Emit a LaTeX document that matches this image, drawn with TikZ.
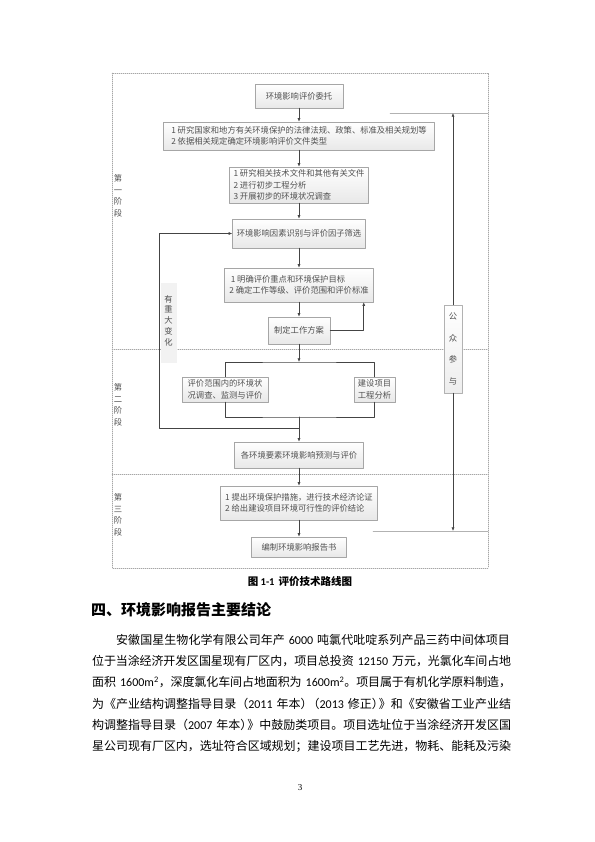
\documentclass[tikz,border=0pt]{standalone}
\usepackage{fontspec}
\setmainfont{Noto Sans CJK SC}
\newfontfamily\latn{Carlito}
\newfontfamily\serifn{Liberation Serif}
\usetikzlibrary{arrows.meta,shadows}
\XeTeXlinebreaklocale "zh"
\XeTeXlinebreakskip=0pt plus 1pt minus 0.5pt
\definecolor{inkgray}{RGB}{68,68,68}
\definecolor{txtgray}{RGB}{80,80,80}
\newcommand{\dg}[1]{{\latn #1}}
\newcommand{\pc}{\kern-5bp\relax}
\newcommand{\boxfont}{\fontsize{8.3bp}{11.5bp}\selectfont}
\newcommand{\bodyfont}{\fontsize{12bp}{21.3bp}\selectfont}

\begin{document}
\begin{tikzpicture}[x=1bp,y=-1bp,line cap=round,line join=round,
  box/.style={draw=black!35,line width=0.5bp,top color=white,bottom color=black!9,
    drop shadow={opacity=0.18,shadow xshift=0.9bp,shadow yshift=-0.9bp},
    inner sep=1.5bp,font=\boxfont,text=txtgray},
  stagelbl/.style={font=\boxfont,text=txtgray,align=center,inner sep=0pt},
  link/.style={draw=inkgray,line width=0.6bp,-{Latex[length=3.6bp,width=3bp]}},
  wire/.style={draw=inkgray,line width=0.6bp},
  frame/.style={draw=black!35,line width=0.4bp,dash pattern=on 1bp off 1bp},
  rule/.style={draw=black!30,line width=0.5bp}]
\useasboundingbox (0,0) rectangle (595,842);
\draw[frame] (112,73) rectangle (488,568);
\draw[frame] (112,349) -- (488,349);
\draw[frame] (112,474) -- (488,474);
\node[stagelbl] (stage1) at (118,196) {第\\一\\阶\\段};
\node[stagelbl] (stage2) at (118,405) {第\\二\\阶\\段};
\node[stagelbl] (stage3) at (118,515) {第\\三\\阶\\段};
\node[box,minimum width=88bp,minimum height=24bp] (entrust) at (299,96) {环境影响评价委托};
\node[box,align=left,minimum width=271bp,minimum height=28bp] (laws) at (299,136) {1 研究国家和地方有关环境保护的法律法规、政策、标准及相关规划等\\2 依据相关规定确定环境影响评价文件类型};
\node[box,align=left,minimum width=139bp,minimum height=36bp] (research) at (299,185) {1 研究相关技术文件和其他有关文件\\2 进行初步工程分析\\3 开展初步的环境状况调查};
\node[box,minimum width=133bp,minimum height=29bp] (factor) at (299,233.5) {环境影响因素识别与评价因子筛选};
\node[box,align=left,minimum width=149bp,minimum height=34bp] (focus) at (299,285) {\,1 明确评价重点和环境保护目标\\2 确定工作等级、评价范围和评价标准};
\node[box,minimum width=62bp,minimum height=27bp] (plan) at (299,330.5) {制定工作方案};
\node[box,align=center,minimum width=86bp,minimum height=25bp] (survey) at (225,389.5) {评价范围内的环境状\\况调查、监测与评价};
\node[box,align=center,minimum width=41bp,minimum height=25bp] (engineering) at (374.5,389.5) {建设项目\\工程分析};
\node[box,minimum width=129bp,minimum height=26bp] (predict) at (299,455) {各环境要素环境影响预测与评价};
\node[box,align=left,minimum width=157bp,minimum height=34bp] (measure) at (299,503) {1 提出环境保护措施，进行技术经济论证\\2 给出建设项目环境可行性的评价结论};
\node[box,minimum width=95bp,minimum height=20bp] (report) at (299,547) {编制环境影响报告书};
\node[fill=black!5,minimum width=16bp,minimum height=80bp,inner sep=0pt] (changebg) at (169,323) {};
\node[stagelbl,font=\fontsize{8.3bp}{10.7bp}\selectfont] (change) at (168.5,320.5) {有\\重\\大\\变\\化};
\node[draw=black!30,line width=0.5bp,top color=white,bottom color=black!7,minimum width=18bp,minimum height=88bp,inner sep=0pt,
  font=\fontsize{8.3bp}{21.7bp}\selectfont,text=txtgray,align=center] (public) at (453,349) {公\\众\\参\\与};
\draw[link] (entrust) -- (laws);
\draw[link] (laws) -- (research);
\draw[link] (research) -- (factor);
\draw[link] (factor) -- (focus);
\draw[link] (focus) -- (plan);
\draw[link] (plan.east) -| ([xshift=-10bp]focus.south east);
\coordinate (split) at (299,362);
\coordinate (merge) at (299,417);
\coordinate (back) at (299,428);
\coordinate (backleft) at (159,428);
\draw[link] (plan) -- (split);
\draw[wire] (survey.north) |- (split) -| (engineering.north);
\draw[wire] (survey.south) |- (merge) -| (engineering.south);
\draw[link] (merge) -- (predict);
\draw[link] (back) -- (backleft) |- (factor.west);
\draw[link] (predict) -- (measure);
\draw[link] (measure) -- (report);
\coordinate (pubtop) at (453,113);
\coordinate (pubbot) at (453,531);
\draw[rule] (390,113) -- (488,113);
\draw[rule] (373,531) -- (488,531);
\draw[link] (public) -- (pubtop);
\draw[link] (public) -- (pubbot);
\node[font=\fontsize{10.5bp}{12bp}\selectfont\bfseries] (caption) at (300,582) {图 \dg{\bfseries 1-1}\, 评价技术路线图};
\node[anchor=west,inner sep=0pt,font=\fontsize{15bp}{18bp}\selectfont\bfseries] (heading) at (91,610) {四、环境影响报告主要结论};
\node[anchor=north west,inner sep=0pt,text width=419bp,font=\bodyfont] (body) at (92,634) {\hspace*{24bp}安徽国星生物化学有限公司年产 \dg{6000} 吨氯代吡啶系列产品三药中间体项目\linebreak
位于当涂经济开发区国星现有厂区内，项目总投资 \dg{12150} 万元，光氯化车间占地\linebreak
面积 \dg{1600m\textsuperscript{2}}，深度氯化车间占地面积为 \dg{1600m\textsuperscript{2}}。项目属于有机化学原料制造，\linebreak
为《产业结构调整指导目录（\dg{2011} 年本）\pc（\dg{2013} 修正）\pc》和《安徽省工业产业结\linebreak
构调整指导目录（\dg{2007} 年本）\pc》中鼓励类项目。项目选址位于当涂经济开发区国\linebreak
星公司现有厂区内，选址符合区域规划；建设项目工艺先进，物耗、能耗及污染{\parfillskip=0pt\par}};
\node[font=\serifn\fontsize{9bp}{10bp}\selectfont] (pageno) at (300,788) {3};
\end{tikzpicture}
\end{document}
